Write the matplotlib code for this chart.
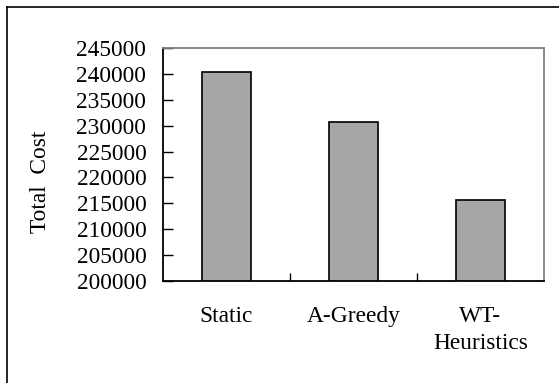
import matplotlib.pyplot as plt
from matplotlib.lines import Line2D
from matplotlib.ticker import FixedLocator

categories = ['Static', 'A-Greedy', 'WT-\nHeuristics']
costs = [240400, 230800, 215700]
yticks = list(range(200000, 245001, 5000))

plt.rcParams['font.family'] = 'Liberation Serif'
plt.rcParams['font.size'] = 16.8

W, H = 559, 383
fig = plt.figure(figsize=(W / 100, H / 100), dpi=100)
# axes box in pixels: left 163, right 544, top 48, bottom 281
ax = fig.add_axes([163 / W, 1 - 281 / H, (544 - 163) / W, (281 - 48) / H])

x = range(len(categories))
ax.bar(x, costs, width=0.39, color='#a6a6a6', edgecolor='black', linewidth=1.2)

ax.set_xlim(-0.5, 2.5)
ax.set_ylim(200000, 245000)
ax.set_yticks(yticks)
ax.set_yticklabels([str(v) for v in yticks])
ax.set_xticks(list(x))
ax.set_xticklabels(categories, linespacing=1.35)
ax.xaxis.set_minor_locator(FixedLocator([0.5, 1.5]))

ax.tick_params(axis='y', direction='in', length=7, width=1, pad=12)
ax.tick_params(axis='x', which='major', length=0, pad=18)
ax.tick_params(axis='x', which='minor', direction='in', length=6, width=1)

ax.spines['left'].set_color('black')
ax.spines['bottom'].set_color('black')
ax.spines['top'].set_color('#808080')
ax.spines['right'].set_color('#808080')
for s in ax.spines.values():
    s.set_linewidth(1.3)

fig.text(41 / W, 1 - 182 / H, 'Total  Cost', rotation=90, ha='center', va='center')

# outer frame (only top and left edges fall inside the image)
fig.add_artist(Line2D([7 / W, 7 / W], [0, 1 - 7 / H], color='black', lw=1.2))
fig.add_artist(Line2D([7 / W, 1], [1 - 7 / H, 1 - 7 / H], color='black', lw=1.2))

fig.savefig('out.png', dpi=100)
